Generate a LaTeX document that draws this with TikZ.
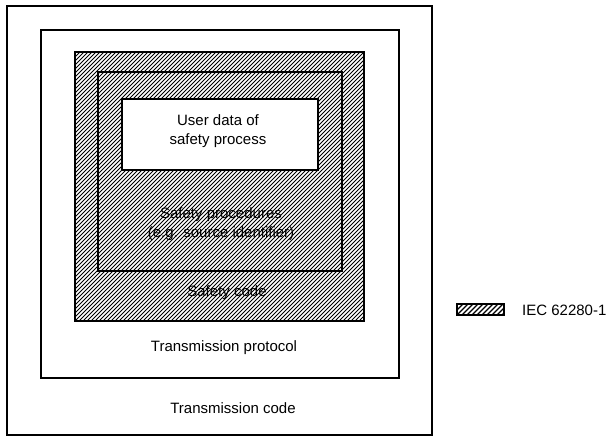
\documentclass[tikz,border=0pt]{standalone}
\usepackage{fontspec}
\setmainfont{Liberation Sans}
\begin{document}
\begin{tikzpicture}[x=1pt,y=-1pt,
  lbl/.style={font=\fontsize{15}{18.5}\selectfont, align=center, inner sep=0pt},
  frame/.style={draw=black, line width=1.1pt},
  hatchline/.style={line width=1pt, black}]
\useasboundingbox (0,0) rectangle (609,437);
% outer frames
\draw[frame] (7,6) rectangle (432,435);
\draw[frame] (41,30) rectangle (399,378);
% hatched area
\begin{scope}
  \clip (75,52) rectangle (364,321);
  \foreach \i in {-280,-276,...,300} {
    \draw[hatchline] (75+\i,321) -- ++(300,-300);
  }
\end{scope}
\draw[frame, line width=1.4pt] (75,52) rectangle (364,321);
\draw[frame, line width=1.4pt] (98,72) rectangle (342,271);
\draw[frame, fill=white] (122,99) rectangle (318,170);
% texts
\node[lbl] (user) at (218,131) {User data of\\safety process};
\node[lbl] (proc) at (221,224) {Safety procedures\\(e.g. source identifier)};
\node[lbl] (scode) at (227,293) {Safety code};
\node[lbl] (tprot) at (224,348) {Transmission protocol};
\node[lbl] (tcode) at (233,408) {Transmission code};
% legend
\begin{scope}
  \clip (457,304) rectangle (504,315);
  \foreach \i in {-20,-15,...,60} {
    \draw[hatchline, line width=1.3pt] (457+\i,315) -- ++(20,-20);
  }
\end{scope}
\draw[frame] (457,304) rectangle (504,315);
\node[lbl, anchor=west] (iec) at (522,310) {IEC 62280-1};
\end{tikzpicture}
\end{document}
